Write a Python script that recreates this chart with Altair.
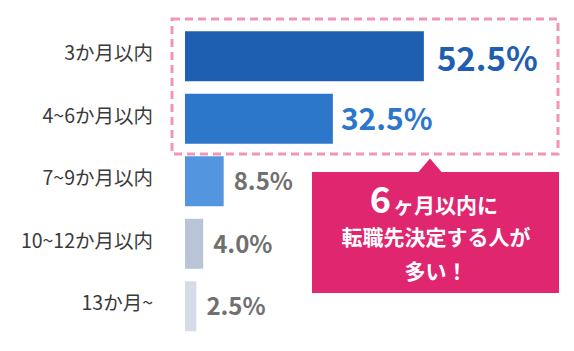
import altair as alt
import pandas as pd

categories = ["3か月以内", "4~6か月以内", "7~9か月以内", "10~12か月以内", "13か月~"]
values = [52.5, 32.5, 8.5, 4.0, 2.5]
value_labels = ["52.5%", "32.5%", "8.5%", "4.0%", "2.5%"]
bar_colors = ["#1F5FB1", "#2D77CB", "#5395DF", "#B9C5D7", "#D5DCE8"]
callout_big = "6"
callout_line1 = "ヶ月以内に"
callout_line2 = "転職先決定する人が"
callout_line3 = "多い！"

FONT = "Noto Sans CJK JP"
PINK = "#E0266F"
DASH = "#F195B9"

df = pd.DataFrame({"cat": categories, "value": values, "label": value_labels})
one = pd.DataFrame({"k": [0]})

xs = alt.Scale(domain=[0, 100], range=[185, 640])
ys = alt.Scale(domain=categories, range=[25, 337.5], paddingInner=0.2, paddingOuter=0.1)

base = alt.Chart(df).encode(y=alt.Y("cat:N", scale=ys, axis=None))

bars = base.mark_bar().encode(
    x=alt.X("value:Q", scale=xs, axis=None),
    color=alt.Color("cat:N", scale=alt.Scale(domain=categories, range=bar_colors), legend=None),
)

cat_text = base.mark_text(align="right", baseline="middle", fontSize=19.5, color="#3A3A3A", font=FONT, dy=-2).encode(
    x=alt.value(153), text="cat:N"
)

lab1 = base.transform_filter(alt.datum.cat == categories[0]).mark_text(
    align="left", baseline="middle", fontSize=33, fontWeight="bold", color="#1F5FB1", font=FONT, dx=13, dy=5
).encode(x=alt.X("value:Q", scale=xs), text="label:N")

lab2 = base.transform_filter(alt.datum.cat == categories[1]).mark_text(
    align="left", baseline="middle", fontSize=30, fontWeight="bold", color="#2D77CB", font=FONT, dx=8, dy=2
).encode(x=alt.X("value:Q", scale=xs), text="label:N")

lab3 = base.transform_filter(
    alt.FieldOneOfPredicate(field="cat", oneOf=categories[2:])
).mark_text(
    align="left", baseline="middle", fontSize=24, fontWeight="bold", color="#707070", font=FONT, dx=10, dy=2
).encode(x=alt.X("value:Q", scale=xs), text="label:N")

dashed = alt.Chart(one).mark_rect(
    fill=None, fillOpacity=0, stroke=DASH, strokeWidth=3, strokeDash=[8, 5]
).encode(x=alt.value(172), x2=alt.value(558), y=alt.value(19), y2=alt.value(154))

box = alt.Chart(one).mark_rect(color=PINK).encode(
    x=alt.value(312), x2=alt.value(559), y=alt.value(172), y2=alt.value(293)
)

tri = alt.Chart(one).mark_point(
    shape="M0,-1.17L1,0L-1,0Z", filled=True, color=PINK, opacity=1, size=576, strokeWidth=0
).encode(x=alt.value(430), y=alt.value(172.5))

t_big = alt.Chart(one).mark_text(
    align="right", baseline="alphabetic", fontSize=36, fontWeight="bold", color="white", font=FONT
).encode(x=alt.value(391), y=alt.value(213), text=alt.value(callout_big))

t1 = alt.Chart(one).mark_text(
    align="left", baseline="alphabetic", fontSize=21, fontWeight="bold", color="white", font=FONT
).encode(x=alt.value(393), y=alt.value(213), text=alt.value(callout_line1))

t2 = alt.Chart(one).mark_text(
    align="center", baseline="middle", fontSize=21, fontWeight="bold", color="white", font=FONT
).encode(x=alt.value(436), y=alt.value(239), text=alt.value(callout_line2))

t3 = alt.Chart(one).mark_text(
    align="center", baseline="middle", fontSize=21, fontWeight="bold", color="white", font=FONT
).encode(x=alt.value(436), y=alt.value(273), text=alt.value(callout_line3))

chart = alt.layer(
    dashed, bars, cat_text, lab1, lab2, lab3, box, tri, t_big, t1, t2, t3
).properties(
    width=574, height=351, padding=0, autosize="none", background="white"
).configure_view(stroke=None)

chart.save("out.html", embed_options={"renderer": "svg", "actions": False})
